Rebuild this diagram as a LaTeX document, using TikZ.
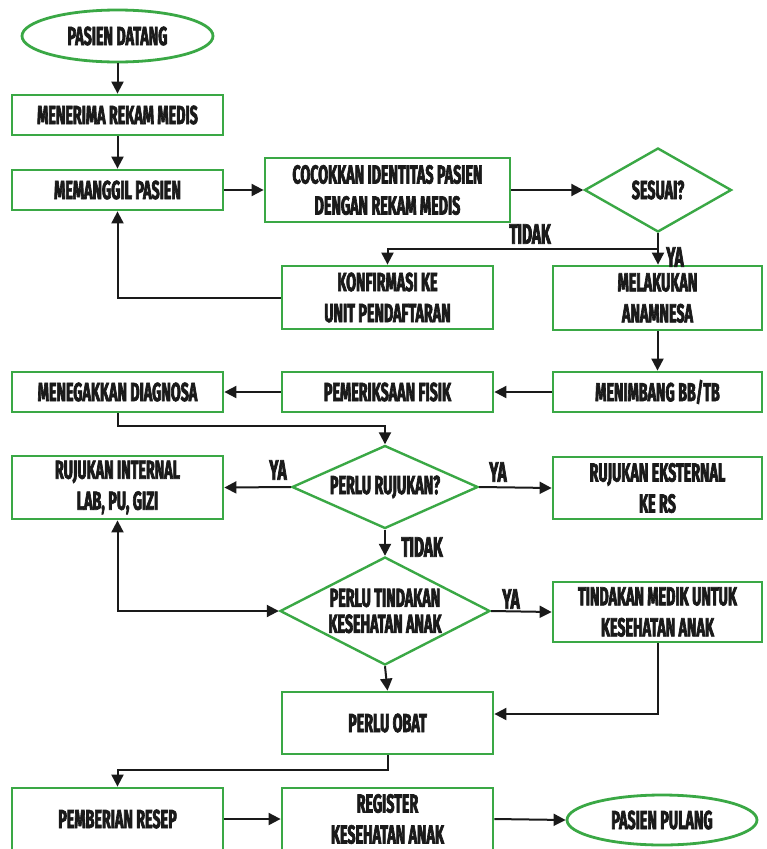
\documentclass[tikz,border=0pt]{standalone}
\usepackage{fontspec}
\setmainfont{Fira Sans}[FakeStretch=0.55, BoldFeatures={FakeBold=2.5}]
\usetikzlibrary{shapes.geometric,arrows.meta,calc}
\definecolor{boxgreen}{HTML}{3AA845}
\definecolor{ink}{HTML}{1A1A1A}
\tikzset{
  flowtext/.style={font=\fontsize{26}{26}\selectfont\bfseries, text=ink, align=center},
  procbox/.style={flowtext, draw=boxgreen, line width=2.8pt, rectangle, inner sep=0pt},
  termbox/.style={flowtext, draw=boxgreen, line width=2.8pt, ellipse, inner sep=0pt},
  decbox/.style={flowtext, draw=boxgreen, line width=2.4pt, diamond, inner sep=0pt},
  flow/.style={draw=ink, line width=2pt, -{Triangle[length=12pt,width=12pt]}},
  flowboth/.style={draw=ink, line width=2pt, {Triangle[length=12pt,width=12pt]}-{Triangle[length=12pt,width=12pt]}},
  plain/.style={draw=ink, line width=2pt},
  lbl/.style={font=\fontsize{28}{28}\selectfont\bfseries, text=ink, inner sep=0pt}
}
\begin{document}
\begin{tikzpicture}[x=1pt,y=-1pt]
\useasboundingbox (0,0) rectangle (767,849);
\fill[white] (0,0) rectangle (767,849);

% terminals
\node[termbox, minimum width=191pt, minimum height=52pt] (start) at (117.5,36) {PASIEN DATANG};
\node[termbox, minimum width=190pt, minimum height=50pt] (finish) at (662,820) {PASIEN PULANG};

% process steps
\node[procbox, minimum width=211pt, minimum height=40pt] (terima) at (117.5,115) {MENERIMA REKAM MEDIS};
\node[procbox, minimum width=211pt, minimum height=40pt] (panggil) at (117.5,190) {MEMANGGIL PASIEN};
\node[procbox, minimum width=245pt, minimum height=64pt] (cocok) at (387.5,190) {COCOKKAN IDENTITAS PASIEN\\[5pt]DENGAN REKAM MEDIS};
\node[procbox, minimum width=211pt, minimum height=63pt] (konfirm) at (387.5,297.5) {KONFIRMASI KE\\[5pt]UNIT PENDAFTARAN};
\node[procbox, minimum width=209pt, minimum height=64pt] (anamnesa) at (657.5,298) {MELAKUKAN\\[5pt]ANAMNESA};
\node[procbox, minimum width=211pt, minimum height=40pt] (diagnosa) at (117.5,392) {MENEGAKKAN DIAGNOSA};
\node[procbox, minimum width=211pt, minimum height=40pt] (fisik) at (387.5,392) {PEMERIKSAAN FISIK};
\node[procbox, minimum width=209pt, minimum height=40pt] (timbang) at (657.5,392) {MENIMBANG BB/TB};
\node[procbox, minimum width=211pt, minimum height=63pt] (internal) at (117.5,487.5) {RUJUKAN INTERNAL\\[5pt]LAB, PU, GIZI};
\node[procbox, minimum width=209pt, minimum height=62pt] (eksternal) at (657.5,488) {RUJUKAN EKSTERNAL\\[5pt]KE RS};
\node[procbox, minimum width=209pt, minimum height=60pt] (medik) at (657.5,612) {TINDAKAN MEDIK UNTUK\\[5pt]KESEHATAN ANAK};
\node[procbox, minimum width=211pt, minimum height=62pt] (obat) at (387.5,723) {PERLU OBAT};
\node[procbox, minimum width=211pt, minimum height=62pt] (resep) at (117.5,819) {PEMBERIAN RESEP};
\node[procbox, minimum width=211pt, minimum height=62pt] (register) at (387.5,819) {REGISTER\\[5pt]KESEHATAN ANAK};

% decisions
\node[decbox, aspect=1.75, minimum width=147pt, minimum height=84pt] (sesuai) at (658,190) {SESUAI?};
\node[decbox, aspect=2.24, minimum width=186pt, minimum height=83pt] (rujukan) at (385,487) {PERLU RUJUKAN?};
\node[decbox, aspect=1.94, minimum width=210pt, minimum height=108pt] (tindakan) at (385,611) {PERLU TINDAKAN\\[0pt]KESEHATAN ANAK};

% connectors
\draw[flow] (start.south) -- (terima.north);
\draw[flow] (terima.south) -- (panggil.north);
\draw[flow] (panggil.east) -- (cocok.west);
\draw[flow] (cocok.east) -- (sesuai.west);
\coordinate (split) at ($(sesuai.south)+(0,16)$);
\draw[plain] (sesuai.south) -- (split);
\draw[flow] (split) -- (split |- anamnesa.north);
\draw[flow] (split) -| (konfirm.north);
\draw[flow] (konfirm.west) -| (panggil.south);
\draw[flow] (anamnesa.south) -- (anamnesa.south |- timbang.north);
\draw[flow] (timbang.west) -- (fisik.east);
\draw[flow] (fisik.west) -- (diagnosa.east);
\draw[flow] (diagnosa.south) -- ++(0,13) -| (rujukan.north);
\draw[flow] (rujukan.west) -- (internal.east);
\draw[flow] (rujukan.east) -- (eksternal.west);
\draw[flow] (rujukan.south) -- (tindakan.north);
\draw[flowboth] (internal.south) |- (tindakan.west);
\draw[flow] (tindakan.east) -- (medik.west);
\draw[flow] (tindakan.south) -- (obat.north);
\coordinate (obatin) at ($(obat.east)+(0,-9)$);
\draw[flow] (medik.south) |- (obatin);
\draw[flow] (obat.south) -- ++(0,15) -| (resep.north);
\draw[flow] (resep.east) -- (register.west);
\draw[flow] (register.east) -- (finish.west);

% branch labels
\node[lbl] at (530,234) {TIDAK};
\node[lbl] at (675,257) {YA};
\node[lbl] at (278,470) {YA};
\node[lbl] at (498,472) {YA};
\node[lbl] at (422,547) {TIDAK};
\node[lbl] at (511,599) {YA};
\end{tikzpicture}
\end{document}
